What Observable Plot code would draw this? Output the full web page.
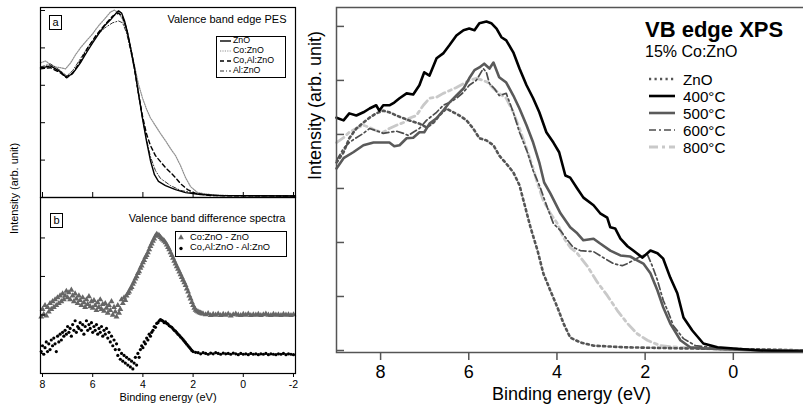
<!DOCTYPE html>
<html><head><meta charset="utf-8">
<script src="https://cdn.jsdelivr.net/npm/d3@7"></script>
<script src="https://cdn.jsdelivr.net/npm/@observablehq/plot@0.6"></script>
<style>
html,body{margin:0;padding:0;background:#fff;overflow:hidden;}
#root{position:relative;width:803px;height:405px;overflow:hidden;font-family:"Liberation Sans",Arial,Helvetica,sans-serif;color:#000;background:#fff;}
.abs{position:absolute;white-space:nowrap;}
.abs svg{max-width:none;display:block;}
</style></head><body><div id="root"></div>
<script>
// ---------------- DATA ----------------
// Right panel: VB edge XPS, 15% Co:ZnO  [binding energy (eV), intensity (arb.)]
const rightTitle = "VB edge XPS";
const rightSubtitle = "15% Co:ZnO";
const rightSeries = ["ZnO", "400°C", "500°C", "600°C", "800°C"];
const rightXTicks = [8, 6, 4, 2, 0];
const rightYTicks = [0, 1, 2, 3, 4, 5, 6];
const xLabel = "Binding energy (eV)";
const yLabel = "Intensity (arb. unit)";

const xps_ZnO = [[9.0,3.48],[8.84,3.67],[8.71,3.93],[8.55,4.11],[8.39,4.22],[8.25,4.31],[8.10,4.39],[7.94,4.44],[7.80,4.41],[7.64,4.35],[7.48,4.30],[7.35,4.26],[7.12,4.20],[6.96,4.13],[6.80,4.22],[6.67,4.35],[6.51,4.48],[6.35,4.41],[6.21,4.35],[6.05,4.26],[5.90,4.11],[5.76,3.93],[5.60,3.89],[5.44,3.80],[5.31,3.61],[5.15,3.46],[4.99,3.30],[4.85,3.06],[4.76,2.78],[4.60,2.28],[4.44,1.85],[4.31,1.43],[4.15,1.11],[3.99,0.80],[3.85,0.50],[3.70,0.24],[3.47,0.15],[3.17,0.09],[2.49,0.06],[1.20,0.04],[-0.61,0.02],[-1.66,0.0]];
const xps_400 = [[9.0,4.31],[8.84,4.26],[8.71,4.39],[8.55,4.35],[8.39,4.41],[8.25,4.48],[8.10,4.54],[8.03,4.44],[7.94,4.54],[7.80,4.54],[7.69,4.59],[7.57,4.67],[7.41,4.76],[7.26,4.74],[7.12,4.91],[7.01,5.15],[6.89,5.09],[6.73,5.41],[6.58,5.50],[6.44,5.65],[6.28,5.83],[6.12,5.93],[5.99,5.96],[5.87,5.93],[5.76,6.06],[5.60,6.09],[5.49,6.06],[5.37,5.96],[5.26,5.80],[5.15,5.74],[4.99,5.52],[4.85,5.22],[4.69,4.91],[4.54,4.67],[4.40,4.41],[4.24,4.04],[4.08,3.85],[3.95,3.67],[3.81,3.24],[3.70,3.20],[3.54,3.00],[3.40,2.83],[3.17,2.69],[3.02,2.54],[2.86,2.46],[2.79,2.28],[2.68,2.26],[2.56,2.07],[2.40,1.93],[2.27,1.85],[2.06,1.72],[1.88,1.85],[1.72,1.80],[1.59,1.70],[1.43,1.35],[1.27,1.06],[1.13,0.61],[0.93,0.37],[0.68,0.13],[0.36,0.06],[-0.61,0.0],[-1.66,-0.02]];
const xps_500 = [[9.0,3.37],[8.84,3.56],[8.62,3.67],[8.39,3.80],[8.16,3.85],[7.94,3.85],[7.80,3.85],[7.69,3.78],[7.57,3.80],[7.41,3.93],[7.26,3.94],[7.12,4.04],[7.01,4.04],[6.89,4.20],[6.73,4.30],[6.58,4.44],[6.44,4.59],[6.28,4.72],[6.12,4.85],[5.99,5.04],[5.87,5.19],[5.76,5.24],[5.65,5.31],[5.53,5.22],[5.44,5.33],[5.31,5.06],[5.15,4.96],[4.99,4.72],[4.85,4.48],[4.69,4.17],[4.54,3.85],[4.40,3.48],[4.29,3.11],[4.15,2.91],[3.92,2.54],[3.70,2.28],[3.54,2.17],[3.40,2.04],[3.17,2.07],[3.02,1.98],[2.79,1.85],[2.56,1.76],[2.34,1.74],[2.18,1.67],[2.04,1.61],[1.88,1.43],[1.72,1.11],[1.59,0.80],[1.43,0.50],[1.20,0.19],[0.98,0.06],[0.68,0.04],[-0.61,0.0],[-1.66,0.0]];
const xps_600 = [[9.0,3.52],[8.84,3.74],[8.71,3.85],[8.55,3.94],[8.39,4.02],[8.25,4.11],[8.10,4.07],[7.94,4.02],[7.80,4.04],[7.64,4.06],[7.48,4.02],[7.37,3.98],[7.26,4.04],[7.12,4.11],[6.96,4.26],[6.73,4.41],[6.58,4.54],[6.44,4.59],[6.28,4.67],[6.12,4.78],[5.99,4.91],[5.83,5.00],[5.67,5.22],[5.60,5.15],[5.53,4.94],[5.42,4.85],[5.31,4.72],[5.15,4.76],[4.99,4.41],[4.85,4.04],[4.67,3.67],[4.54,3.33],[4.38,3.02],[4.22,2.65],[4.08,2.35],[3.92,2.22],[3.76,2.04],[3.63,1.91],[3.47,1.85],[3.17,1.83],[2.95,1.72],[2.72,1.61],[2.52,1.57],[2.40,1.61],[2.11,1.74],[1.95,1.78],[1.84,1.57],[1.72,1.30],[1.59,0.93],[1.47,0.70],[1.36,0.46],[1.13,0.22],[0.86,0.09],[0.29,0.04],[-0.61,0.0],[-1.66,0.0]];
const xps_800 = [[9.0,3.85],[8.84,3.94],[8.71,4.04],[8.55,4.11],[8.39,4.17],[8.25,4.13],[8.10,4.07],[7.94,4.04],[7.80,4.11],[7.64,4.17],[7.48,4.22],[7.35,4.30],[7.19,4.35],[7.03,4.54],[6.89,4.67],[6.73,4.69],[6.58,4.76],[6.44,4.81],[6.28,4.87],[6.12,4.94],[5.99,5.00],[5.83,5.04],[5.67,5.00],[5.56,4.96],[5.44,4.85],[5.31,4.76],[5.15,4.67],[4.99,4.41],[4.85,4.11],[4.69,3.74],[4.54,3.37],[4.44,3.09],[4.31,2.78],[4.15,2.54],[3.99,2.35],[3.85,2.09],[3.70,1.91],[3.54,1.80],[3.31,1.56],[3.08,1.26],[2.86,1.02],[2.63,0.74],[2.40,0.50],[2.18,0.31],[1.95,0.19],[1.66,0.09],[1.27,0.06],[0.29,0.02],[-1.66,0.0]];

// Left panel (a): Valence band edge PES
const panelATitle = "Valence band edge PES";
const panelASeries = ["ZnO", "Co:ZnO", "Co,Al:ZnO", "Al:ZnO"];
const leftXTicks = [8, 6, 4, 2, 0, -2];
const panelAYTicks = [0, 1, 2, 3, 4, 5];
const pes_ZnO = [[8.08,3.47],[7.88,3.49],[7.68,3.52],[7.48,3.44],[7.28,3.36],[7.08,3.23],[6.88,3.28],[6.69,3.41],[6.49,3.60],[6.25,3.87],[6.01,4.13],[5.77,4.37],[5.53,4.59],[5.29,4.75],[5.09,4.91],[4.97,4.99],[4.85,4.93],[4.73,4.72],[4.61,4.40],[4.49,4.00],[4.33,3.44],[4.18,2.80],[4.02,2.13],[3.86,1.52],[3.70,0.99],[3.54,0.61],[3.38,0.43],[3.10,0.32],[2.70,0.21],[2.30,0.13],[1.71,0.08],[0.91,0.05],[-2.08,0.04]];
const pes_CoZnO = [[8.08,3.60],[7.88,3.65],[7.68,3.55],[7.48,3.49],[7.28,3.47],[7.08,3.44],[6.88,3.60],[6.69,3.81],[6.49,4.00],[6.25,4.19],[6.01,4.37],[5.77,4.59],[5.53,4.77],[5.29,4.96],[5.13,5.01],[4.97,4.93],[4.81,4.77],[4.65,4.45],[4.49,4.00],[4.33,3.52],[4.18,3.04],[4.02,2.67],[3.86,2.37],[3.70,2.13],[3.50,1.92],[3.30,1.71],[3.10,1.52],[2.90,1.31],[2.70,1.12],[2.50,0.85],[2.30,0.53],[2.10,0.29],[1.82,0.13],[1.31,0.08],[0.51,0.05],[-2.08,0.04]];
const pes_CoAlZnO = [[8.08,3.44],[7.68,3.47],[7.28,3.33],[7.04,3.20],[6.80,3.31],[6.49,3.65],[6.17,4.03],[5.85,4.35],[5.53,4.61],[5.21,4.85],[4.97,4.93],[4.81,4.83],[4.65,4.51],[4.49,4.00],[4.33,3.44],[4.18,2.80],[4.02,2.19],[3.86,1.71],[3.70,1.39],[3.50,1.12],[3.30,0.96],[3.10,0.80],[2.90,0.67],[2.70,0.53],[2.50,0.37],[2.22,0.21],[1.90,0.11],[1.31,0.05],[-2.08,0.04]];
const pes_AlZnO = [[8.08,3.49],[7.68,3.57],[7.28,3.39],[7.04,3.25],[6.80,3.39],[6.49,3.71],[6.17,4.05],[5.85,4.32],[5.53,4.53],[5.21,4.67],[4.97,4.72],[4.81,4.67],[4.65,4.40],[4.49,3.92],[4.33,3.39],[4.18,2.77],[4.02,2.13],[3.86,1.57],[3.70,1.09],[3.50,0.72],[3.30,0.51],[2.90,0.32],[2.50,0.19],[1.90,0.11],[1.11,0.05],[-2.08,0.04]];

// Left panel (b): Valence band difference spectra
const panelBTitle = "Valence band difference spectra";
const panelBSeries = ["Co:ZnO - ZnO", "Co,Al:ZnO - Al:ZnO"];
const panelBYTicks = [0, 1, 2, 3];
const diff_Co = [[8.05,0.95],[8.0,1.15],[7.95,1.02],[7.9,1.25],[7.85,0.98],[7.8,1.2],[7.75,1.08],[7.7,1.3],[7.65,1.15],[7.6,1.35],[7.55,1.2],[7.5,1.4],[7.45,1.25],[7.4,1.45],[7.35,1.3],[7.3,1.5],[7.25,1.35],[7.2,1.55],[7.15,1.4],[7.1,1.5],[7.05,1.62],[7.0,1.45],[6.95,1.58],[6.9,1.4],[6.85,1.65],[6.8,1.5],[6.75,1.35],[6.7,1.55],[6.65,1.42],[6.6,1.3],[6.55,1.5],[6.5,1.38],[6.45,1.25],[6.4,1.45],[6.35,1.32],[6.3,1.2],[6.25,1.4],[6.2,1.28],[6.15,1.48],[6.1,1.22],[6.05,1.35],[6.0,1.18],[5.95,1.38],[5.9,1.25],[5.85,1.12],[5.8,1.32],[5.75,1.2],[5.7,1.4],[5.65,1.15],[5.6,1.28],[5.55,1.1],[5.5,1.3],[5.45,1.18],[5.4,1.05],[5.35,1.25],[5.3,1.12],[5.25,1.35],[5.2,1.0],[5.15,1.2],[5.1,1.08],[5.05,0.95],[5.0,1.25],[4.95,1.05],[4.9,1.15],[4.85,1.4],[4.8,1.3],[4.75,1.45],[4.7,1.38],[4.65,1.5],[4.6,1.56],[4.55,1.6],[4.5,1.68],[4.45,1.72],[4.4,1.8],[4.35,1.86],[4.3,1.94],[4.25,2.0],[4.2,2.08],[4.15,2.13],[4.1,2.22],[4.05,2.28],[4.0,2.36],[3.95,2.42],[3.9,2.5],[3.85,2.55],[3.8,2.62],[3.75,2.7],[3.7,2.78],[3.65,2.85],[3.6,2.92],[3.55,2.98],[3.5,3.05],[3.45,3.1],[3.4,3.08],[3.35,3.06],[3.3,3.02],[3.25,2.98],[3.2,2.95],[3.15,2.92],[3.1,2.88],[3.05,2.82],[3.0,2.76],[2.95,2.7],[2.9,2.62],[2.85,2.55],[2.8,2.48],[2.75,2.4],[2.7,2.33],[2.65,2.26],[2.6,2.19],[2.55,2.12],[2.5,2.05],[2.45,1.98],[2.4,1.91],[2.35,1.84],[2.3,1.77],[2.25,1.68],[2.2,1.6],[2.15,1.5],[2.1,1.42],[2.05,1.33],[2.0,1.25],[1.95,1.18],[1.9,1.13],[1.85,1.1],[1.8,1.08],[1.75,1.06],[1.7,1.05],[1.65,1.04],[1.6,1.03],[1.5,1.01],[1.4,1.04],[1.3,0.99],[1.2,1.02],[1.1,1.0],[1.0,1.03],[0.9,0.99],[0.8,1.02],[0.7,1.0],[0.6,1.03],[0.5,0.98],[0.4,1.01],[0.3,1.03],[0.2,1.0],[0.1,0.99],[0.0,1.02],[-0.1,1.0],[-0.2,1.03],[-0.3,0.99],[-0.4,1.01],[-0.5,1.0],[-0.6,1.02],[-0.7,0.99],[-0.8,1.01],[-0.9,1.03],[-1.0,1.0],[-1.1,0.99],[-1.2,1.02],[-1.3,1.0],[-1.4,1.01],[-1.5,0.99],[-1.6,1.02],[-1.7,1.0],[-1.8,1.01],[-1.9,0.99],[-2.0,1.01]];
const diff_CoAl = [[8.05,0.05],[8.0,0.2],[7.95,-0.02],[7.9,0.15],[7.85,0.3],[7.8,0.05],[7.75,0.25],[7.7,0.1],[7.65,0.35],[7.6,0.2],[7.55,0.4],[7.5,0.25],[7.45,0.05],[7.4,0.45],[7.35,0.3],[7.3,0.5],[7.25,0.35],[7.2,0.55],[7.15,0.45],[7.1,0.6],[7.05,0.5],[7.0,0.7],[6.95,0.55],[6.9,0.65],[6.85,0.45],[6.8,0.75],[6.75,0.6],[6.7,0.85],[6.65,0.55],[6.6,0.7],[6.55,0.65],[6.5,0.8],[6.45,0.6],[6.4,0.75],[6.35,0.5],[6.3,0.7],[6.25,0.85],[6.2,0.6],[6.15,0.75],[6.1,0.65],[6.05,0.8],[6.0,0.55],[5.95,0.7],[5.9,0.6],[5.85,0.75],[5.8,0.5],[5.75,0.65],[5.7,0.55],[5.65,0.7],[5.6,0.45],[5.55,0.6],[5.5,0.5],[5.45,0.65],[5.4,0.4],[5.35,0.55],[5.3,0.3],[5.25,0.45],[5.2,0.2],[5.15,0.35],[5.1,0.1],[5.05,0.25],[5.0,-0.05],[4.95,0.1],[4.9,-0.15],[4.85,0.0],[4.8,-0.2],[4.75,-0.05],[4.7,-0.25],[4.65,-0.1],[4.6,-0.3],[4.55,-0.15],[4.5,-0.35],[4.45,-0.2],[4.4,-0.4],[4.35,-0.25],[4.3,-0.1],[4.25,-0.3],[4.2,0.0],[4.15,-0.1],[4.1,0.1],[4.05,0.2],[4.0,0.15],[3.95,0.3],[3.9,0.25],[3.85,0.4],[3.8,0.35],[3.75,0.5],[3.7,0.45],[3.65,0.55],[3.6,0.6],[3.55,0.7],[3.5,0.68],[3.45,0.78],[3.4,0.8],[3.35,0.85],[3.3,0.88],[3.25,0.86],[3.2,0.84],[3.15,0.8],[3.1,0.82],[3.05,0.78],[3.0,0.76],[2.95,0.72],[2.9,0.7],[2.85,0.68],[2.8,0.64],[2.75,0.6],[2.7,0.58],[2.65,0.54],[2.6,0.5],[2.55,0.47],[2.5,0.43],[2.45,0.4],[2.4,0.36],[2.35,0.32],[2.3,0.28],[2.25,0.24],[2.2,0.2],[2.15,0.16],[2.1,0.12],[2.05,0.08],[2.0,0.05],[1.9,0.03],[1.8,0.02],[1.7,-0.01],[1.6,0.02],[1.5,0.0],[1.4,-0.02],[1.3,0.01],[1.2,-0.01],[1.1,0.02],[1.0,0.0],[0.9,-0.02],[0.8,0.01],[0.7,-0.01],[0.6,0.0],[0.5,-0.02],[0.4,0.01],[0.3,-0.01],[0.2,-0.03],[0.1,0.0],[0.0,-0.02],[-0.1,-0.01],[-0.2,-0.03],[-0.3,0.0],[-0.4,-0.02],[-0.5,-0.01],[-0.6,-0.03],[-0.7,-0.01],[-0.8,-0.02],[-0.9,0.0],[-1.0,-0.03],[-1.1,-0.01],[-1.2,-0.02],[-1.3,-0.03],[-1.4,-0.01],[-1.5,-0.02],[-1.6,0.0],[-1.7,-0.03],[-1.8,-0.01],[-1.9,-0.02],[-2.0,-0.03]];

// ---------------- STYLES ----------------
const FONT = '"Liberation Sans", Arial, Helvetica, sans-serif';
const rightStyles = {
  "ZnO":   {stroke: "#555555", strokeWidth: 2.6, strokeDasharray: "2.2,3.3"},
  "400°C": {stroke: "#000000", strokeWidth: 2.6},
  "500°C": {stroke: "#5a5a5a", strokeWidth: 2.6},
  "600°C": {stroke: "#4d4d4d", strokeWidth: 1.7, strokeDasharray: "7,3,2,3"},
  "800°C": {stroke: "#c9c9c9", strokeWidth: 2.8, strokeDasharray: "9,4,3,4"}
};
const rightData = {"ZnO": xps_ZnO, "400°C": xps_400, "500°C": xps_500, "600°C": xps_600, "800°C": xps_800};
const rightDrawOrder = ["800°C", "ZnO", "600°C", "500°C", "400°C"];

const aStyles = {
  "ZnO":       {stroke: "#000", strokeWidth: 1.4},
  "Co:ZnO":    {stroke: "#8f8f8f", strokeWidth: 1.2, strokeDasharray: "1.2,1.2"},
  "Co,Al:ZnO": {stroke: "#000", strokeWidth: 1.4, strokeDasharray: "4,3"},
  "Al:ZnO":    {stroke: "#333", strokeWidth: 1.0, strokeDasharray: "4,2,1,2"}
};
const aData = {"ZnO": pes_ZnO, "Co:ZnO": pes_CoZnO, "Co,Al:ZnO": pes_CoAlZnO, "Al:ZnO": pes_AlZnO};
const aDrawOrder = ["Co:ZnO", "Al:ZnO", "Co,Al:ZnO", "ZnO"];

const bStyles = {
  "Co:ZnO - ZnO":       {symbol: "triangle", r: 2.2, fill: "#666"},
  "Co,Al:ZnO - Al:ZnO": {symbol: "circle", r: 1.6, fill: "#000"}
};
const bData = {"Co:ZnO - ZnO": diff_Co, "Co,Al:ZnO - Al:ZnO": diff_CoAl};

const root = document.getElementById("root");
function place(node, left, top) {
  const d = document.createElement("div");
  d.className = "abs";
  d.style.left = left + "px"; d.style.top = top + "px";
  d.appendChild(node);
  root.appendChild(d);
  return d;
}
function label(text, left, centerY, fs, lh, extra = {}) {
  const d = document.createElement("div");
  d.className = "abs";
  d.textContent = text;
  d.style.left = left + "px";
  d.style.top = (centerY - lh / 2) + "px";
  d.style.fontSize = fs + "px";
  d.style.lineHeight = lh + "px";
  Object.assign(d.style, extra);
  root.appendChild(d);
  return d;
}
function sample(w, h, st) {
  const ns = "http://www.w3.org/2000/svg";
  const s = document.createElementNS(ns, "svg");
  s.setAttribute("width", w); s.setAttribute("height", h);
  const l = document.createElementNS(ns, "line");
  l.setAttribute("x1", 0); l.setAttribute("x2", w);
  l.setAttribute("y1", h / 2); l.setAttribute("y2", h / 2);
  l.setAttribute("stroke", st.stroke);
  l.setAttribute("stroke-width", st.strokeWidth);
  if (st.strokeDasharray) l.setAttribute("stroke-dasharray", st.strokeDasharray);
  s.appendChild(l);
  return s;
}
const X = d => d[0], Y = d => d[1];

// ---------------- RIGHT PANEL ----------------
const rightPlot = Plot.plot({
  width: 516, height: 405,
  marginLeft: 46, marginRight: 0, marginTop: 7, marginBottom: 53,
  x: {domain: [9, -1.66]},
  y: {domain: [-0.037, 6.35]},
  style: {background: "transparent", fontFamily: FONT, fontSize: "18px", color: "#000", overflow: "visible"},
  marks: [
    ...rightDrawOrder.map(k => Plot.line(rightData[k], {x: X, y: Y, ...rightStyles[k], strokeLinejoin: "round"})),
    Plot.frame({stroke: "#555", strokeWidth: 1.5}),
    Plot.axisX({ticks: rightXTicks, tickSize: 8, tickPadding: 5, tickFormat: d => String(d), label: null, stroke: "#555", strokeWidth: 1.5, fontSize: 18}),
    Plot.axisY({ticks: rightYTicks, tickSize: -8, tickFormat: () => "", label: null, stroke: "#555", strokeWidth: 1.5}),
    Plot.text([xLabel], {text: d => d, frameAnchor: "bottom", dy: 41.5, lineAnchor: "middle", fontSize: 18}),
    Plot.text([yLabel], {text: d => d, frameAnchor: "left", dx: -21, rotate: -90, lineAnchor: "middle", fontSize: 18})
  ]
});
place(rightPlot, 290, 0);

// ---------------- LEFT PANEL A ----------------
const plotA = Plot.plot({
  width: 300, height: 198,
  marginLeft: 40, marginRight: 5, marginTop: 7, marginBottom: 1,
  x: {domain: [8.08, -2.08]},
  y: {domain: [0, 5.08]},
  style: {background: "transparent", fontFamily: FONT, fontSize: "10px", color: "#000", overflow: "visible"},
  marks: [
    ...aDrawOrder.map(k => Plot.line(aData[k], {x: X, y: Y, ...aStyles[k]})),
    Plot.frame({stroke: "#000", strokeWidth: 1.2}),
    Plot.axisX({ticks: leftXTicks, tickSize: -5, tickFormat: () => "", label: null}),
    Plot.axisY({ticks: panelAYTicks, tickSize: -5, tickFormat: () => "", label: null}),
    Plot.text([panelATitle], {text: d => d, frameAnchor: "top-right", dx: -9, dy: 12, textAnchor: "end", lineAnchor: "middle", fontSize: 11})
  ]
});
place(plotA, 0, 0);

// ---------------- LEFT PANEL B ----------------
const plotB = Plot.plot({
  width: 300, height: 209,
  marginLeft: 40, marginRight: 5, marginTop: 1, marginBottom: 32,
  x: {domain: [8.08, -2.08]},
  y: {domain: [-0.52, 4.05]},
  style: {background: "transparent", fontFamily: FONT, fontSize: "10.5px", color: "#000", overflow: "visible"},
  marks: [
    ...panelBSeries.map(k => Plot.dot(bData[k], {x: X, y: Y, ...bStyles[k], stroke: "none"})),
    Plot.frame({stroke: "#000", strokeWidth: 1.2}),
    Plot.axisX({ticks: leftXTicks, tickSize: 4, tickPadding: 3, tickFormat: d => String(d), label: null}),
    Plot.axisY({ticks: panelBYTicks, tickSize: -5, tickFormat: () => "", label: null}),
    Plot.text([panelBTitle], {text: d => d, frameAnchor: "top-right", dx: -10, dy: 21, textAnchor: "end", lineAnchor: "middle", fontSize: 11}),
    Plot.text([xLabel], {text: d => d, frameAnchor: "bottom", dy: 24, lineAnchor: "middle", fontSize: 11})
  ]
});
place(plotB, 0, 196);

// left shared y label
label(yLabel, 14, 188.5, 11, 11, {transform: "translate(-50%,0) rotate(-90deg)", transformOrigin: "50% 50%"});

// panel letter boxes
function letterBox(t, left, top) {
  const d = document.createElement("div");
  d.className = "abs";
  d.textContent = t;
  Object.assign(d.style, {left: left + "px", top: top + "px", width: "11px", height: "13px", border: "1px solid #000",
    fontSize: "11px", lineHeight: "13px", textAlign: "center", boxSizing: "content-box"});
  root.appendChild(d);
}
letterBox("a", 49, 15);
letterBox("b", 50, 213);

// panel a legend
(function () {
  const box = document.createElement("div");
  box.className = "abs";
  Object.assign(box.style, {left: "216px", top: "36px", width: "68px", height: "40px", border: "1px solid #000", background: "#fff"});
  root.appendChild(box);
  panelASeries.forEach((k, i) => {
    const cy = 40.5 + i * 10;
    place(sample(11, 6, aStyles[k]), 220, cy - 3);
    label(k, 233, cy, 8.8, 8.5);
  });
})();

// panel b legend
(function () {
  const box = document.createElement("div");
  box.className = "abs";
  Object.assign(box.style, {left: "175px", top: "231px", width: "110px", height: "24px", border: "1px solid #000", background: "#fff"});
  root.appendChild(box);
  panelBSeries.forEach((k, i) => {
    const cy = 237 + i * 10.6;
    const ns = "http://www.w3.org/2000/svg";
    const s = document.createElementNS(ns, "svg");
    s.setAttribute("width", 8); s.setAttribute("height", 8);
    const p = document.createElementNS(ns, "path");
    const sym = bStyles[k].symbol === "triangle" ? d3.symbolTriangle : d3.symbolCircle;
    const area = bStyles[k].symbol === "triangle" ? 14 : 9;
    p.setAttribute("d", d3.symbol(sym, area)());
    p.setAttribute("transform", "translate(4,4.5)");
    p.setAttribute("fill", bStyles[k].fill);
    s.appendChild(p);
    place(s, 177, cy - 4);
    label(k, 190, cy, 9.3, 9);
  });
})();

// right legend
label(rightTitle, 645, 29.5, 22, 22, {fontWeight: "bold"});
label(rightSubtitle, 645, 51.5, 16, 16);
rightSeries.forEach((k, i) => {
  const cy = 79 + i * 17;
  place(sample(26, 8, rightStyles[k]), 649, cy - 4);
  label(k, 683, cy, 15.2, 15);
});
</script></body></html>
